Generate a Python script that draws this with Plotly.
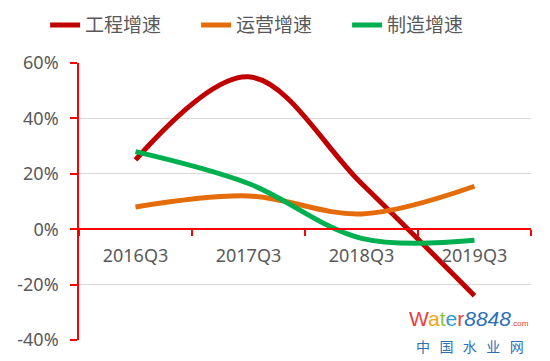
import plotly.graph_objects as go

categories = ["2016Q3", "2017Q3", "2018Q3", "2019Q3"]
eng = [0.25, 0.55, 0.165, -0.24]
ops = [0.08, 0.12, 0.055, 0.155]
mfg = [0.28, 0.165, -0.033, -0.04]
y_ticks = [-0.4, -0.2, 0, 0.2, 0.4, 0.6]
y_labels = ["-40%", "-20%", "0%", "20%", "40%", "60%"]

series = [("工程增速", eng, "#C00000"), ("运营增速", ops, "#E46C0A"), ("制造增速", mfg, "#00B050")]

fig = go.Figure()
for name, vals, col in series:
    fig.add_trace(go.Scatter(x=categories, y=vals, name=name, mode="lines",
                             line=dict(color=col, width=5, shape="spline", smoothing=1)))

# page body adds 8px offset; figure sized to fill the rest of the window
font_fam = "Noto Sans, Noto Sans CJK SC, sans-serif"
fig.update_layout(
    width=542, height=353,
    margin=dict(l=71, r=19, t=55, b=21, autoexpand=False),
    plot_bgcolor="white", paper_bgcolor="white",
    font=dict(family=font_fam, size=18, color="#595959"),
    showlegend=True,
    legend=dict(orientation="h", xref="paper", x=-0.075, xanchor="left",
                y=1.205, yref="paper", yanchor="top",
                font=dict(size=19, color="#595959"), entrywidth=106, entrywidthmode="pixels",
                traceorder="normal"),
    xaxis=dict(type="category", anchor="free", position=0.4, side="bottom",
               showline=True, linecolor="#FF0000", linewidth=1.5,
               ticks="outside", tickson="boundaries", ticklen=6, tickcolor="#FF0000", tickwidth=1.5,
               ticklabelstandoff=10, automargin=False,
               showgrid=False, tickfont=dict(size=18, color="#595959"), range=[-0.5, 3.5]),
    yaxis=dict(range=[-0.4, 0.6], tickvals=y_ticks, ticktext=y_labels, automargin=False,
               showline=True, linecolor="#FF0000", linewidth=1.5,
               ticks="outside", ticklen=7, tickcolor="#FF0000", tickwidth=1.5,
               ticklabelstandoff=8,
               showgrid=True, gridcolor="#D9D9D9", gridwidth=1,
               zeroline=False, tickfont=dict(size=18, color="#595959")),
)

fig.add_annotation(xref="paper", yref="paper", x=1.0, y=0.03, xanchor="right", yanchor="bottom",
                   text="<span style='color:#E8413C'>W</span><span style='color:#F4A21B'>a</span><span style='color:#8CC43E'>t</span><span style='color:#2E9BD6'>e</span><span style='color:#E8413C'>r</span><i><span style='color:#2E6FB7'>8848</span></i><span style='color:#E8413C;font-size:8px'>.com</span>",
                   showarrow=False, font=dict(size=21, family="Arial"))
fig.add_annotation(xref="paper", yref="paper", x=0.99, y=-0.065, xanchor="right", yanchor="bottom",
                   text="中   国   水   业   网", showarrow=False,
                   font=dict(size=14, color="#2E6FB7", family="Noto Sans CJK SC"))

fig.write_html("out.html")
